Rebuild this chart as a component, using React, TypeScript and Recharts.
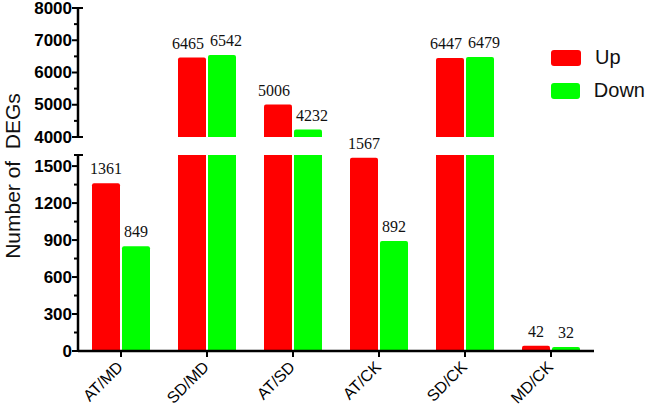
import React from 'react';
import { BarChart, Bar, XAxis, YAxis, LabelList, Legend } from 'recharts';

const groups = ['AT/MD', 'SD/MD', 'AT/SD', 'AT/CK', 'SD/CK', 'MD/CK'];
const upCounts = [1361, 6465, 5006, 1567, 6447, 42];
const downCounts = [849, 6542, 4232, 892, 6479, 32];

const lowTicks = [0, 150, 300, 450, 600, 750, 900, 1050, 1200, 1350, 1500];
const highTicks = [4000, 4500, 5000, 5500, 6000, 6500, 7000, 7500, 8000];
const seriesOrder = ['Up', 'Down'];

const LOW_MAX = 1590;
const HIGH_MIN = 4000;
const HIGH_MAX = 8000;

const AXIS_X = 78;
const RED = '#ff0000';
const GREEN = '#00ff00';

const rows = groups.map((g, i) => ({
  group: g,
  up: upCounts[i],
  down: downCounts[i],
  upHigh: upCounts[i] >= HIGH_MIN ? upCounts[i] : null,
  downHigh: downCounts[i] >= HIGH_MIN ? downCounts[i] : null,
  upLowLabel: upCounts[i] <= LOW_MAX ? upCounts[i] : null,
  downLowLabel: downCounts[i] <= LOW_MAX ? downCounts[i] : null,
}));

const makeYTick = (major: number, caps: number[]) => (props: any) => {
  const { y, payload } = props;
  const v = payload.value;
  const isMajor = v % major === 0;
  const isCap = caps.includes(v);
  return (
    <g>
      <line
        x1={AXIS_X - (isMajor ? 6 : 4)}
        x2={isCap ? AXIS_X + 5 : AXIS_X}
        y1={y}
        y2={y}
        stroke="#000"
        strokeWidth={2}
      />
      {isMajor && (
        <text
          x={AXIS_X - 6}
          y={y}
          textAnchor="end"
          dominantBaseline="central"
          fontFamily="Arial, 'Liberation Sans', sans-serif"
          fontWeight="bold"
          fontSize={17}
          fill="#000"
        >
          {v}
        </text>
      )}
    </g>
  );
};

const XTick = (props: any) => {
  const { x, y, payload } = props;
  const ax = x + 3;
  const ay = y + 9;
  return (
    <text
      x={ax}
      y={ay}
      transform={`rotate(-45 ${ax} ${ay})`}
      textAnchor="end"
      fontFamily="Arial, 'Liberation Sans', sans-serif"
      fontSize={16}
      fill="#000"
    >
      {payload.value}
    </text>
  );
};

const renderLegend = (props: any) => {
  const items = [...(props.payload || [])].sort(
    (a: any, b: any) => seriesOrder.indexOf(a.value) - seriesOrder.indexOf(b.value)
  );
  return (
    <div>
      {items.map((p: any) => (
        <div key={p.value} style={{ display: 'flex', alignItems: 'center', height: 33 }}>
          <span
            style={{
              display: 'inline-block',
              width: 30,
              height: 16,
              borderRadius: 3,
              background: p.color,
              marginRight: 14,
            }}
          />
          <span style={{ fontFamily: "Arial, 'Liberation Sans', sans-serif", fontSize: 20, color: '#111' }}>
            {p.value}
          </span>
        </div>
      ))}
    </div>
  );
};

const labelStyle = { fontFamily: "'Liberation Serif', 'Times New Roman', serif", fontSize: 16, fill: '#111' };

export default function App() {
  return (
    <div style={{ position: 'relative', width: 645, height: 410, background: '#fff' }}>
      <style>{'body{margin:0} .recharts-surface{overflow:visible}'}</style>

      <div style={{ position: 'absolute', left: 0, top: 0 }}>
        <BarChart
          width={645}
          height={145}
          data={rows}
          margin={{ top: 8, right: 51, bottom: 8, left: 0 }}
          barSize={28}
          barGap={2}
        >
          <XAxis dataKey="group" hide />
          <YAxis
            width={AXIS_X}
            domain={[HIGH_MIN, HIGH_MAX]}
            ticks={highTicks}
            interval={0}
            allowDataOverflow
            axisLine={{ stroke: '#000', strokeWidth: 2.5 }}
            tickLine={false}
            tick={makeYTick(1000, [HIGH_MIN, HIGH_MAX])}
          />
          <Legend
            layout="vertical"
            align="center"
            verticalAlign="middle"
            content={renderLegend}
            wrapperStyle={{ position: 'absolute', left: 551, top: 41, width: 94 }}
          />
          <Bar dataKey="upHigh" name="Up" fill={RED} radius={[2, 2, 0, 0]} isAnimationActive={false}>
            <LabelList dataKey="upHigh" position="top" offset={9} dx={-4} style={labelStyle} />
          </Bar>
          <Bar dataKey="downHigh" name="Down" fill={GREEN} radius={[2, 2, 0, 0]} isAnimationActive={false}>
            <LabelList dataKey="downHigh" position="top" offset={9} dx={4} style={labelStyle} />
          </Bar>
        </BarChart>
      </div>

      <div style={{ position: 'absolute', left: 0, top: 150 }}>
        <BarChart
          width={645}
          height={260}
          data={rows}
          margin={{ top: 5, right: 51, bottom: 0, left: 0 }}
          barSize={28}
          barGap={2}
        >
          <XAxis
            dataKey="group"
            height={59}
            interval={0}
            axisLine={{ stroke: '#000', strokeWidth: 2.5 }}
            tickLine={{ stroke: '#000', strokeWidth: 2 }}
            tickSize={6}
            tick={XTick}
          />
          <YAxis
            width={AXIS_X}
            domain={[0, LOW_MAX]}
            ticks={[...lowTicks, LOW_MAX]}
            interval={0}
            allowDataOverflow
            axisLine={{ stroke: '#000', strokeWidth: 2.5 }}
            tickLine={false}
            tick={makeYTick(300, [LOW_MAX])}
          />
          <Bar dataKey="up" name="Up" fill={RED} radius={[2, 2, 0, 0]} isAnimationActive={false}>
            <LabelList dataKey="upLowLabel" position="top" offset={9} style={labelStyle} />
          </Bar>
          <Bar dataKey="down" name="Down" fill={GREEN} radius={[2, 2, 0, 0]} isAnimationActive={false}>
            <LabelList dataKey="downLowLabel" position="top" offset={9} style={labelStyle} />
          </Bar>
        </BarChart>
      </div>

      <svg style={{ position: 'absolute', left: 0, top: 0 }} width={30} height={410}>
        <text
          x={12}
          y={176}
          transform="rotate(-90 12 176)"
          textAnchor="middle"
          dominantBaseline="central"
          fontFamily="Arial, 'Liberation Sans', sans-serif"
          fontSize={21}
          fill="#111"
          style={{ whiteSpace: 'pre' }}
        >
          {'Number of  DEGs'}
        </text>
      </svg>
    </div>
  );
}
